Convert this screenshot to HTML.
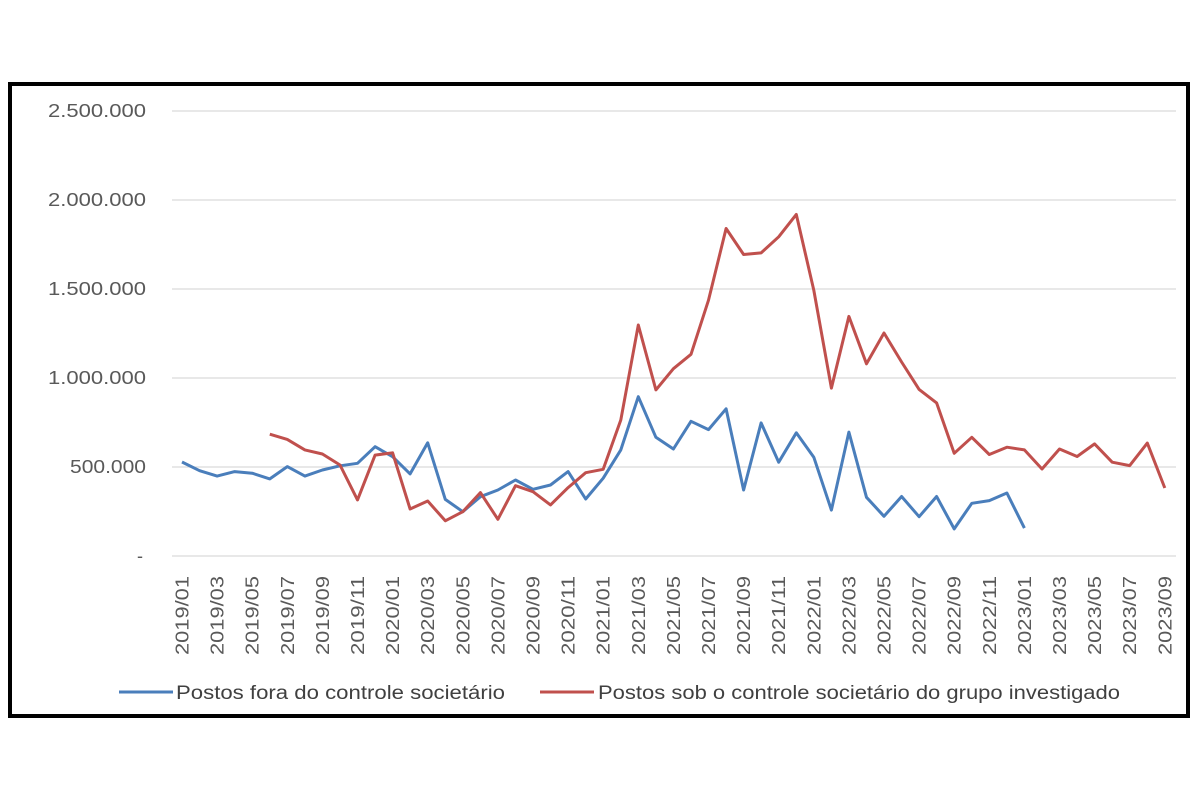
<!DOCTYPE html>
<html><head><meta charset="utf-8"><style>
html,body{margin:0;padding:0;background:#fff;}
svg{display:block;font-family:"Liberation Sans",sans-serif;}
</style></head><body>
<svg id="chart" width="1200" height="800" viewBox="0 0 1200 800" xmlns="http://www.w3.org/2000/svg">
<rect x="10" y="84" width="1178" height="632" fill="#fff" stroke="#000" stroke-width="4"/>
<g id="grid"></g>
<g id="yaxis"></g>
<g id="xaxis"></g>
<g id="series"></g>
<g>
<line x1="119" y1="692" x2="173" y2="692" stroke="#4a7ebb" stroke-width="3"/>
<text x="176" y="699" font-size="19" fill="#404040" textLength="329" lengthAdjust="spacingAndGlyphs">Postos fora do controle societário</text>
<line x1="540" y1="692" x2="594" y2="692" stroke="#c0504d" stroke-width="3"/>
<text x="598" y="699" font-size="19" fill="#404040" textLength="522" lengthAdjust="spacingAndGlyphs">Postos sob o controle societário do grupo investigado</text>
</g>
</svg>
<script>
const months = [];
for (let y = 2019; y <= 2023; y++) for (let m = 1; m <= 12; m++) { if (y === 2023 && m > 9) break; months.push(y + "/" + String(m).padStart(2, "0")); }
const yTicks = [0, 500000, 1000000, 1500000, 2000000, 2500000];
const yTickLabels = ["-", "500.000", "1.000.000", "1.500.000", "2.000.000", "2.500.000"];
const seriesFora = [528000,479000,449000,474000,465000,433000,502000,449000,483000,507000,521000,614000,558000,461000,636000,318000,249000,333000,371000,427000,375000,399000,474000,320000,437000,596000,895000,667000,601000,757000,710000,827000,371000,748000,527000,692000,555000,258000,696000,330000,223000,334000,221000,334000,152000,296000,311000,354000,157000];
const seriesGrupo = [null,null,null,null,null,684000,655000,596000,573000,511000,315000,567000,580000,264000,309000,198000,249000,356000,206000,395000,361000,287000,384000,468000,487000,764000,1298000,933000,1052000,1133000,1437000,1840000,1694000,1703000,1793000,1919000,1493000,943000,1346000,1080000,1253000,1090000,936000,860000,577000,667000,570000,611000,596000,489000,601000,559000,630000,527000,508000,634000,382000];
const NS = "http://www.w3.org/2000/svg";
const x = i => 182 + i * 17.55;
const y = v => 556 - v * 445 / 2500000;
function mk(tag, attrs, parent) { const e = document.createElementNS(NS, tag); for (const k in attrs) e.setAttribute(k, attrs[k]); parent.appendChild(e); return e; }
const grid = document.getElementById("grid"), ya = document.getElementById("yaxis"), xa = document.getElementById("xaxis"), sg = document.getElementById("series");
yTicks.forEach((t, i) => {
  const l = mk("line", {x1: 172, x2: 1176, y1: y(t), y2: y(t), stroke: "#d9d9d9", "stroke-width": 1.3}, grid);
  
  
  const attrs = {x: i === 0 ? 143 : 146, y: y(t) + 6, "text-anchor": "end", "font-size": 18, fill: "#595959"};
  if (i > 0) { attrs.textLength = (yTickLabels[i].length * 10.9).toFixed(0); attrs.lengthAdjust = "spacingAndGlyphs"; }
  const tx = mk("text", attrs, ya);
  tx.textContent = yTickLabels[i];
  
  
});
months.forEach((m, i) => {
  if (i % 2) return;
  const tx = mk("text", {x: 0, y: 0, transform: `translate(${x(i) + 6.5},576) rotate(-90)`, "text-anchor": "end", "font-size": 18, fill: "#595959", textLength: 79, lengthAdjust: "spacingAndGlyphs"}, xa);
  tx.textContent = m;
  
  
});
function draw(data, color, name) {
  let d = "";
  data.forEach((v, i) => { if (v == null) return; d += (d ? "L" : "M") + x(i).toFixed(1) + " " + y(v).toFixed(1); });
  const p = mk("path", {d, fill: "none", stroke: color, "stroke-width": 3, "stroke-linejoin": "round"}, sg);
  
  
}
draw(seriesFora, "#4a7ebb", "line-postos-fora");
draw(seriesGrupo, "#c0504d", "line-postos-grupo");
</script>
</body></html>
